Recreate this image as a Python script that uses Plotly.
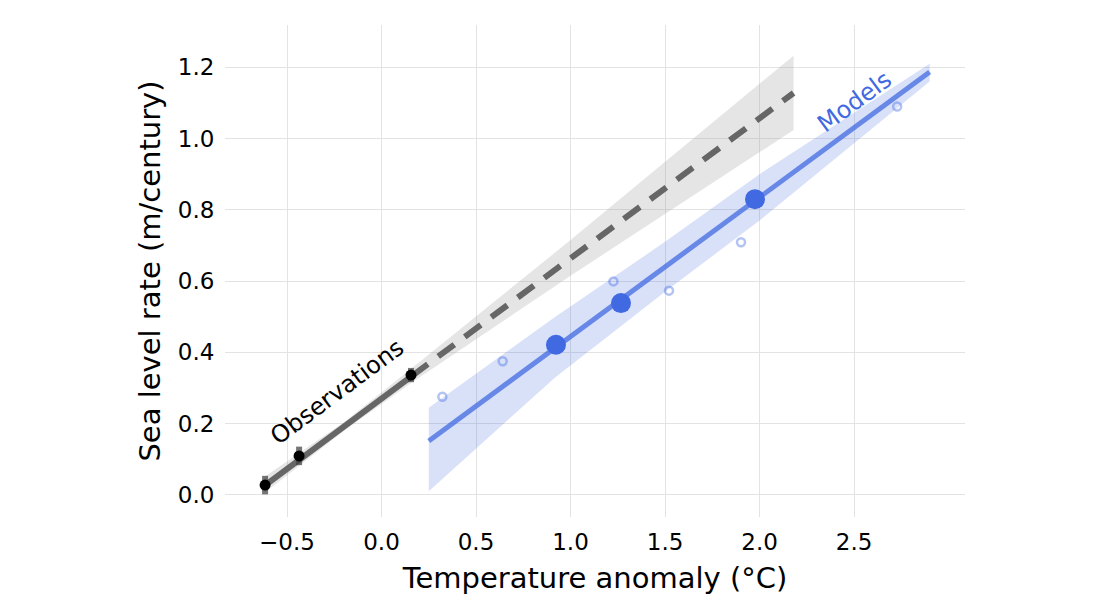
import plotly.graph_objects as go

# ---- data ----
obs_x = [-0.616, -0.436, 0.156]
obs_y = [0.027, 0.109, 0.336]
obs_err = [0.026, 0.026, 0.02]

obs_fit_x = [-0.62, 0.16]
obs_fit_y = [0.025, 0.333]
proj_x = [0.16, 2.18]
proj_y = [0.333, 1.128]

obs_band_x = [-0.62, -0.2, 0.16, 1.0, 2.18]
obs_band_hi = [0.05, 0.203, 0.355, 0.715, 1.233]
obs_band_lo = [0.005, 0.179, 0.315, 0.615, 1.024]

mod_mean_x = [0.923, 1.267, 1.976]
mod_mean_y = [0.421, 0.538, 0.830]

mod_x = [0.322, 0.641, 1.227, 1.521, 1.902, 2.728]
mod_y = [0.275, 0.375, 0.599, 0.573, 0.709, 1.090]

mod_fit_x = [0.25, 2.9]
mod_fit_y = [0.151, 1.187]

mod_band_x = [0.25, 0.92, 1.5, 2.0, 2.9]
mod_band_hi = [0.244, 0.50, 0.71, 0.90, 1.21]
mod_band_lo = [0.010, 0.33, 0.57, 0.77, 1.16]

x_ticks = [-0.5, 0.0, 0.5, 1.0, 1.5, 2.0, 2.5]
x_ticklabels = ["\u22120.5", "0.0", "0.5", "1.0", "1.5", "2.0", "2.5"]
y_ticks = [0.0, 0.2, 0.4, 0.6, 0.8, 1.0, 1.2]
y_ticklabels = ["0.0", "0.2", "0.4", "0.6", "0.8", "1.0", "1.2"]

ROYAL = "#4169E1"
FONT = "DejaVu Sans"

fig = go.Figure()

# ribbons
fig.add_trace(go.Scatter(
    x=obs_band_x + obs_band_x[::-1],
    y=obs_band_hi + obs_band_lo[::-1],
    fill="toself", fillcolor="rgba(153,153,153,0.25)",
    line=dict(width=0), mode="lines", hoverinfo="skip"))
fig.add_trace(go.Scatter(
    x=mod_band_x + mod_band_x[::-1],
    y=mod_band_hi + mod_band_lo[::-1],
    fill="toself", fillcolor="rgba(65,105,225,0.2)",
    line=dict(width=0), mode="lines", hoverinfo="skip"))

# lines
fig.add_trace(go.Scatter(x=proj_x, y=proj_y, mode="lines",
                         line=dict(color="#666666", width=6, dash="20px,13px")))
fig.add_trace(go.Scatter(x=obs_fit_x, y=obs_fit_y, mode="lines",
                         line=dict(color="#666666", width=6)))
fig.add_trace(go.Scatter(x=mod_fit_x, y=mod_fit_y, mode="lines",
                         line=dict(color="rgba(65,105,225,0.75)", width=5)))

# points
fig.add_trace(go.Scatter(x=mod_x, y=mod_y, mode="markers",
                         marker=dict(symbol="circle-open", size=8,
                                     color="rgba(65,105,225,0.4)",
                                     line=dict(width=2.5))))
fig.add_trace(go.Scatter(x=mod_mean_x, y=mod_mean_y, mode="markers",
                         marker=dict(size=20, color=ROYAL)))
fig.add_trace(go.Scatter(x=obs_x, y=obs_y, mode="markers",
                         error_y=dict(type="data", array=obs_err, thickness=6,
                                      width=0, color="rgba(60,60,60,0.7)"),
                         marker=dict(size=11, color="black")))

# labels
fig.add_annotation(x=-0.235, y=0.288, text="Observations", showarrow=False,
                   textangle=-36.6, font=dict(family=FONT, size=24, color="black"))
fig.add_annotation(x=2.5, y=1.104, text="Models", showarrow=False,
                   textangle=-36.4, font=dict(family=FONT, size=24, color=ROYAL))

fig.update_layout(
    width=1100, height=600,
    paper_bgcolor="white", plot_bgcolor="white",
    showlegend=False,
    margin=dict(l=217, r=143, t=17, b=91, autoexpand=False),
    font=dict(family=FONT, color="black"),
)
fig.update_xaxes(
    range=[-0.828, 3.087], tickvals=x_ticks, ticktext=x_ticklabels,
    showgrid=True, gridcolor="#e3e3e3", gridwidth=1.3, zeroline=False,
    showline=False, ticks="outside", ticklen=4, tickcolor="rgba(0,0,0,0)",
    tickfont=dict(family=FONT, size=23, color="black"),
    title=dict(text="Temperature anomaly (°C)", standoff=14,
               font=dict(family=FONT, size=29, color="black")),
)
fig.update_yaxes(
    range=[-0.0626, 1.319], tickvals=y_ticks, ticktext=y_ticklabels,
    showgrid=True, gridcolor="#e3e3e3", gridwidth=1.3, zeroline=False,
    showline=False, ticks="outside", ticklen=5, tickcolor="rgba(0,0,0,0)",
    tickfont=dict(family=FONT, size=23, color="black"),
    title=dict(text="Sea level rate (m/century)", standoff=8,
               font=dict(family=FONT, size=29, color="black")),
)

fig.write_html("out.html")
